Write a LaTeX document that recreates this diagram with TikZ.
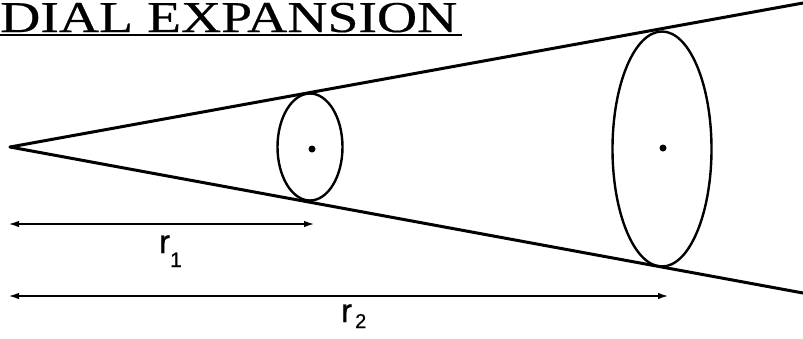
\documentclass[tikz,border=0pt]{standalone}
\usepackage{fontspec}
\setsansfont[FakeBold=0.6]{Liberation Sans}
\newfontfamily\titlefont[FakeBold=0.4]{Liberation Serif}
\usetikzlibrary{arrows.meta,shapes.geometric}
\tikzset{
  cone/.style={line width=3pt, line cap=round},
  ring/.style={draw, ellipse, line width=2.4pt, inner sep=0pt},
  centre/.style={circle, fill, inner sep=0pt, minimum size=7pt},
  dist/.style={line width=1.3pt, {Latex[length=10pt,width=6.5pt]}-{Latex[length=10pt,width=6.5pt]}},
  lab/.style={anchor=base west, inner sep=0pt, font=\sffamily\fontsize{33}{33}\selectfont},
}
\begin{document}
\begin{tikzpicture}[x=1pt,y=-1pt]
\useasboundingbox (0,0) rectangle (803,338);
% title
\node[anchor=base west, inner sep=0pt] (title) at (0,32) {\scalebox{1.265}[1]{\titlefont\fontsize{44}{45}\selectfont DIAL EXPANSION}};
\coordinate (ul1) at (0,35);
\coordinate (ul2) at (462,35);
\draw[line width=1.6pt] (ul1) -- (ul2);
% cone
\coordinate (apex) at (10,147);
\coordinate (topend) at (803,3);
\coordinate (botend) at (803,293);
\draw[cone] (apex) -- (topend);
\draw[cone] (apex) -- (botend);
% ellipses
\node[ring, minimum width=65pt, minimum height=107pt] (e1) at (310,147) {};
\node[ring, minimum width=99pt, minimum height=235pt] (e2) at (662,149) {};
\node[centre] (c1) at (312,149) {};
\node[centre] (c2) at (663,148) {};
% distances
\coordinate (a1s) at (9,224);
\coordinate (a1e) at (314,224);
\coordinate (a2s) at (9,296);
\coordinate (a2e) at (668,296);
\draw[dist] (a1s) -- (a1e);
\draw[dist] (a2s) -- (a2e);
\node[lab] (r1) at (159,253) {r\raisebox{-14pt}{\fontsize{21}{21}\selectfont 1}};
\node[lab] (r2) at (341,322) {r\hspace{3pt}\raisebox{-6pt}{\fontsize{20}{20}\selectfont 2}};
\end{tikzpicture}
\end{document}
